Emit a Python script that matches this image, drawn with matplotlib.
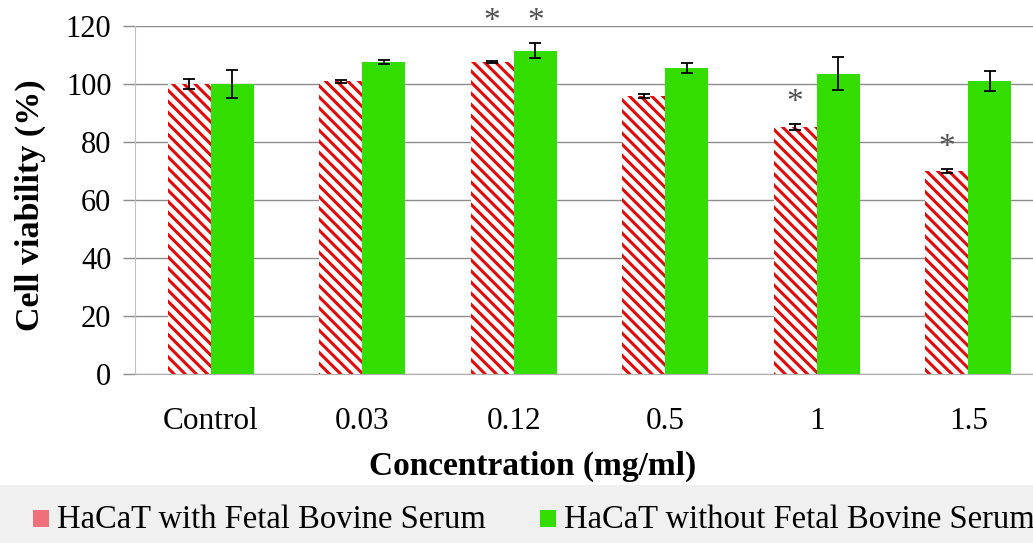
import matplotlib
matplotlib.use("Agg")
import matplotlib.pyplot as plt
import numpy as np
from matplotlib.patches import Rectangle

plt.rcParams.update({"font.family": "Liberation Serif", "hatch.linewidth": 2.2})

# data
concentrations = ["Control", "0.03", "0.12", "0.5", "1", "1.5"]
with_fbs = [100.0, 101.0, 107.5, 96.0, 85.2, 70.0]
with_fbs_err = [1.7, 0.5, 0.3, 0.7, 1.0, 0.6]
without_fbs = [100.0, 107.5, 111.5, 105.5, 103.6, 101.1]
without_fbs_err = [4.7, 0.7, 2.5, 1.8, 5.7, 3.5]
# significance marks: (group index, series 0 = with FBS / 1 = without FBS)
signif = [(2, 0), (2, 1), (4, 0), (5, 0)]

RED = "#e00a0a"
RED_KEY = "#f07078"
GREEN = "#33dd00"
GRID = "#8c8c8c"

W, H = 1033, 543
fig = plt.figure(figsize=(W / 100, H / 100), dpi=100)
ax = fig.add_axes([135 / W, 1 - 374 / H, 909 / W, 348 / H])

x = np.arange(len(concentrations))
bw = 0.285
ax.bar(x - bw / 2, with_fbs, bw, facecolor="white", edgecolor=RED,
       hatch="\\\\\\", linewidth=0, zorder=2)
ax.bar(x + bw / 2, without_fbs, bw, color=GREEN, linewidth=0, zorder=2)
ax.errorbar(x - bw / 2, with_fbs, yerr=with_fbs_err, fmt="none",
            ecolor="black", elinewidth=1.3, capsize=4, capthick=1.3, zorder=3)
ax.errorbar(x + bw / 2, without_fbs, yerr=without_fbs_err, fmt="none",
            ecolor="black", elinewidth=1.3, capsize=4, capthick=1.3, zorder=3)

# asterisks above the marked bars
series = [(with_fbs, with_fbs_err), (without_fbs, without_fbs_err)]
for g, s in signif:
    tops = [series[k][0][g] + series[k][1][g] for gg, k in signif if gg == g]
    xs = x[g] + (bw / 2 if s else -bw / 2)
    ax.text(xs, max(tops) + 7.5, "*", ha="center", va="center", fontsize=24,
            color="#505050", clip_on=False, zorder=4)

ax.set_xlim(-0.5, len(concentrations) - 0.5)
ax.set_ylim(0, 120)
ax.set_yticks(range(0, 121, 20))
ax.set_xticks(x)
ax.set_xticklabels(concentrations)
ax.yaxis.grid(True, color=GRID, linewidth=1.0, zorder=0)
ax.set_axisbelow(True)
for side in ("top", "right"):
    ax.spines[side].set_visible(False)
ax.spines["left"].set_color("#c0c0c0")
ax.spines["bottom"].set_color("#b0b0b0")
ax.tick_params(axis="y", length=9, color=GRID, width=1.0, pad=8,
               labelsize=22)
ax.tick_params(axis="x", length=0, pad=24, labelsize=22.5)

fig.text(533 / W, 1 - 466 / H, "Concentration (mg/ml)", ha="center",
         va="center", fontsize=24, fontweight="bold")
fig.text(30 / W, 1 - 205 / H, "Cell viability (%)", ha="center",
         va="center", rotation=90, fontsize=24.5, fontweight="bold")

# legend band
fig.patches.append(Rectangle((0, 0), 1, (H - 485) / H, transform=fig.transFigure,
                             facecolor="#f0f0f0", edgecolor="none", zorder=0))
keys = [(33, RED_KEY, "HaCaT with Fetal Bovine Serum"),
        (540, GREEN, "HaCaT without Fetal Bovine Serum")]
for kx, col, lab in keys:
    fig.patches.append(Rectangle((kx / W, 1 - 527 / H), 16 / W, 17 / H,
                                 transform=fig.transFigure, facecolor=col,
                                 edgecolor="none", zorder=1))
    fig.text((kx + 24) / W, 1 - 520 / H, lab, ha="left", va="center",
             fontsize=23.5)

fig.savefig("out.png", dpi=100, facecolor="white")
